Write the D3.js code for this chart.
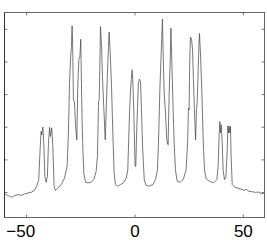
<!DOCTYPE html>
<html>
<head>
<meta charset="utf-8">
<script src="https://cdn.jsdelivr.net/npm/d3@7"></script>
<style>
    body { margin: 0; background: #fff; }
    .main text { font-family: "Liberation Sans", Arial, sans-serif; }
</style>
</head>
<body>
<div class="main"></div>
<script>

// spectrum
const xVals = [
    -60.0, -59.2, -57.7, -56.5, -55.4, -53.8, -52.3, -50.8, -49.2, -47.7, -46.2, -45.1, -44.2,
    -43.5, -43.1, -42.8, -42.3, -41.8, -41.4, -40.8, -40.2, -39.7, -39.2, -38.8, -38.2, -37.7,
    -37.1, -36.5, -35.4, -33.8, -32.3, -31.1, -30.5, -30.0, -29.5, -29.1, -28.8, -28.5, -28.2,
    -27.7, -27.2, -26.6, -26.2, -25.7, -25.2, -24.8, -24.5, -24.2, -23.8, -23.4, -22.6, -21.5,
    -20.0, -18.8, -17.7, -17.1, -16.6, -16.3, -16.0, -15.7, -15.2, -14.8, -14.2, -13.5, -13.1,
    -12.5, -12.0, -11.7, -11.2, -10.6, -10.0, -9.4, -8.8, -7.7, -6.5, -5.1, -3.8, -3.1, -2.5,
    -2.0, -1.5, -1.1, -0.8, -0.3, 0.0, 0.3, 0.6, 0.9, 1.4, 1.8, 2.3, 2.8, 3.2, 3.8, 4.5, 5.4,
    6.9, 8.5, 9.7, 10.6, 11.2, 11.7, 12.2, 12.6, 12.9, 13.2, 13.7, 14.3, 14.9, 15.5, 16.0, 16.5,
    16.8, 17.2, 17.7, 18.3, 18.9, 19.7, 21.1, 22.6, 23.8, 24.5, 24.9, 25.2, 25.5, 25.8, 26.3,
    26.8, 27.2, 27.7, 28.2, 28.6, 28.9, 29.2, 29.7, 30.0, 30.5, 31.1, 31.7, 32.3, 33.1, 34.6,
    36.5, 38.0, 38.6, 39.1, 39.4, 39.7, 40.0, 40.5, 40.9, 41.5, 42.2, 42.8, 43.1, 43.4, 43.7,
    44.0, 44.3, 44.6, 45.1, 46.2, 47.7, 49.2, 50.8, 51.5, 52.8, 54.3, 55.8, 57.4, 58.5, 60.0
]
const yVals = [
    0.95, 0.92, 0.87, 0.84, 0.89, 0.92, 0.90, 0.94, 0.97, 0.99, 1.05, 1.18, 1.38,
    2.40, 2.86, 2.75, 2.99, 2.40, 1.48, 1.30, 1.48, 2.50, 2.98, 2.70, 2.97, 2.40,
    1.18, 1.05, 1.12, 1.23, 1.43, 1.79, 2.81, 4.33, 5.10, 5.46, 6.09, 5.35, 3.82,
    3.77, 3.01, 2.60, 4.23, 5.05, 5.15, 5.68, 4.33, 3.26, 2.29, 1.58, 1.30, 1.28,
    1.30, 1.38, 1.63, 2.09, 3.77, 3.82, 4.84, 6.07, 5.46, 4.54, 3.62, 2.60, 3.42,
    4.64, 5.46, 5.90, 5.25, 4.23, 2.81, 1.58, 1.23, 1.18, 1.23, 1.28, 1.43, 1.68, 3.01,
    3.93, 4.44, 4.74, 4.44, 3.42, 2.50, 1.79, 1.79, 2.60, 3.62, 4.33, 4.46, 4.38, 3.52, 2.29, 1.38, 1.20,
    1.18, 1.23, 1.38, 1.68, 2.81, 4.13, 5.05, 5.76, 6.30, 5.35, 4.03, 3.42, 2.60, 2.45, 4.03, 5.05,
    6.02, 5.05, 3.82, 2.50, 1.68, 1.33, 1.30, 1.40, 1.68, 2.50, 3.57, 3.52, 5.05, 5.74, 5.71,
    5.35, 4.44, 3.42, 2.60, 3.52, 3.72, 4.33, 5.46, 5.86, 5.15, 4.03, 2.60, 1.68, 1.40, 1.33,
    1.28, 1.38, 1.79, 2.81, 3.16, 2.81, 3.06, 2.50, 1.68, 1.38, 1.48, 2.29, 3.03, 2.81, 3.01,
    2.81, 3.01, 2.09, 1.23, 1.15, 1.12, 1.09, 1.05, 1.09, 1.02, 1.01, 0.99, 1.00, 0.95, 0.97
]

const xTicks = [-50, 0, 50]
const xTickLabels = ["\u221250", "0", "50"]
const yTicks = [1, 2, 3, 4, 5, 6]

const chart = () => {

    const w = 267
    const h = 242
    const box = { left: 4.5, right: 264.5, top: 12.5, bottom: 217.5 }

    const svg = d3.select(".main")
        .append("svg")
        .attr("width", w)
        .attr("height", h)

    const xScale = d3.scaleLinear()
        .domain([-60, 60])
        .range([box.left, box.right])

    const yScale = d3.scaleLinear()
        .domain([0.22, 6.5])
        .range([box.bottom, box.top])

    // frame
    svg.append("rect")
        .attr("x", box.left)
        .attr("y", box.top)
        .attr("width", box.right - box.left)
        .attr("height", box.bottom - box.top)
        .attr("fill", "none")
        .attr("stroke", "#666")
        .attr("stroke-width", 1)

    // inward ticks on all four sides
    const tickLen = 3
    const xBottom = svg.append("g")
        .attr("transform", `translate(0, ${box.bottom})`)
        .call(d3.axisBottom(xScale).tickValues(xTicks).tickSizeInner(-tickLen).tickSizeOuter(0)
            .tickFormat((d, i) => xTickLabels[i]).tickPadding(7))
    xBottom.select(".domain").remove()
    xBottom.selectAll("line").attr("stroke", "#777")
    xBottom.selectAll("text")
        .attr("font-size", 17)
        .attr("fill", "#000")
        .attr("dx", (d) => d < 0 ? -6 : 0)

    svg.append("g")
        .attr("transform", `translate(0, ${box.top})`)
        .call(d3.axisTop(xScale).tickValues(xTicks).tickSizeInner(-tickLen).tickSizeOuter(0).tickFormat(""))
        .call(g => g.select(".domain").remove())
        .selectAll("line").attr("stroke", "#777")

    svg.append("g")
        .attr("transform", `translate(${box.left}, 0)`)
        .call(d3.axisLeft(yScale).tickValues(yTicks).tickSizeInner(-tickLen).tickSizeOuter(0).tickFormat(""))
        .call(g => g.select(".domain").remove())
        .selectAll("line").attr("stroke", "#777")

    svg.append("g")
        .attr("transform", `translate(${box.right}, 0)`)
        .call(d3.axisRight(yScale).tickValues(yTicks).tickSizeInner(-tickLen).tickSizeOuter(0).tickFormat(""))
        .call(g => g.select(".domain").remove())
        .selectAll("line").attr("stroke", "#777")

    // left edge is drawn darker in the picture
    svg.append("line")
        .attr("x1", box.left).attr("x2", box.left)
        .attr("y1", box.top).attr("y2", box.bottom)
        .attr("stroke", "#333")

    // spectrum
    const points = xVals.map((x, i) => [x, yVals[i]])
    const line = d3.line()
        .x(d => xScale(d[0]))
        .y(d => yScale(d[1]))

    svg.append("path")
        .datum(points)
        .attr("d", line)
        .attr("fill", "none")
        .attr("stroke", "#4a4a4a")
        .attr("stroke-width", 0.75)
}

chart()

</script>
</body>
</html>
